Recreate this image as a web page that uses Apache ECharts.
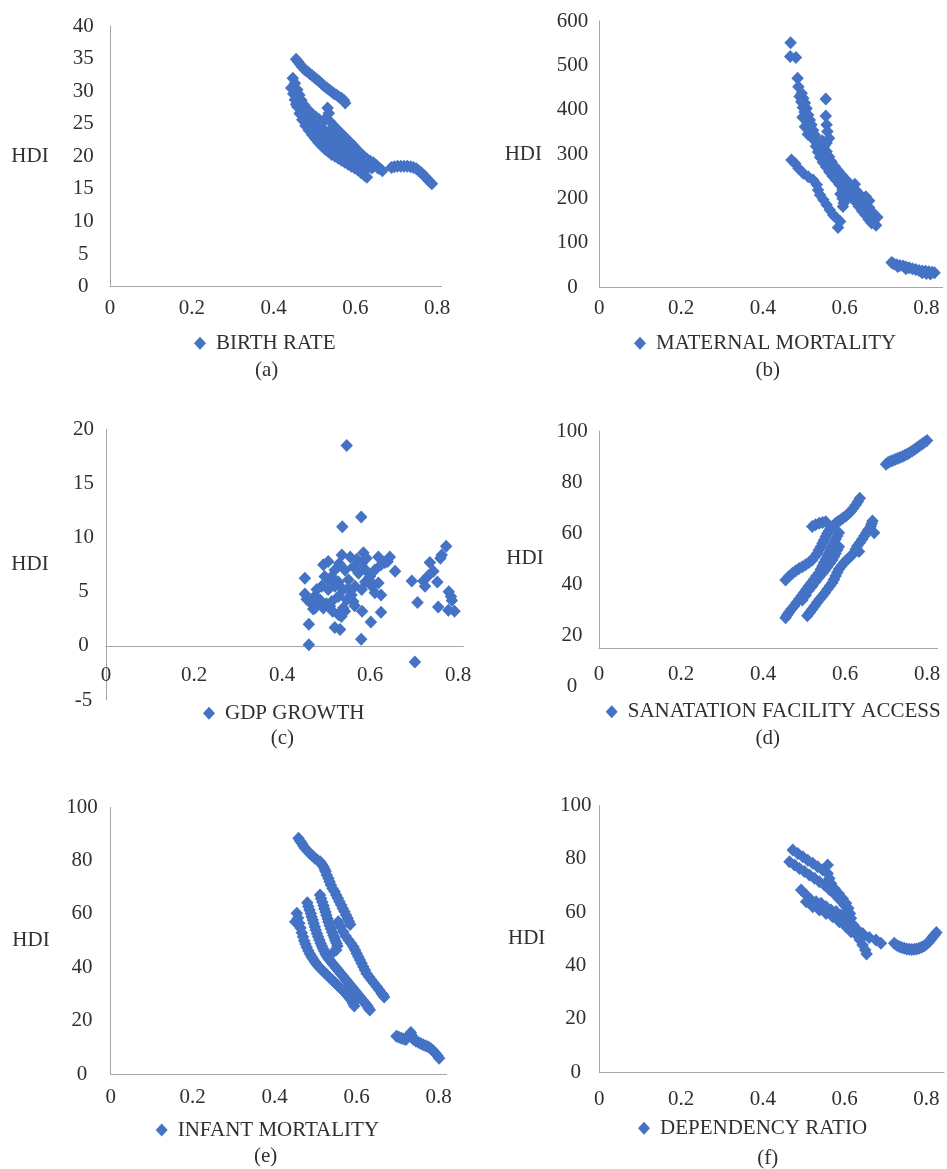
<!DOCTYPE html>
<html><head><meta charset="utf-8">
<script src="https://cdn.jsdelivr.net/npm/echarts@6/dist/echarts.min.js"></script>
<style>html,body{margin:0;padding:0;background:#fff}#c{width:947px;height:1169px}</style>
</head><body><div id="c"></div>
<script>
// ---------------- DATA ----------------
const seriesNames = ['BIRTH RATE','MATERNAL MORTALITY','GDP GROWTH','SANATATION FACILITY ACCESS','INFANT MORTALITY','DEPENDENCY RATIO'];
const captions = ['(a)','(b)','(c)','(d)','(e)','(f)'];
const yAxisTitle = 'HDI';
const xTickLabels = ['0','0.2','0.4','0.6','0.8'];
const yTicksA = ['0','5','10','15','20','25','30','35','40'];
const yTicksB = ['0','100','200','300','400','500','600'];
const yTicksC = ['-5','0','5','10','15','20'];
const yTicksD = ['0','20','40','60','80','100'];
const yTicksE = ['0','20','40','60','80','100'];
const yTicksF = ['0','20','40','60','80','100'];

const birthRate = [
[0.455,34.9],[0.46,34.5],[0.465,34.1],[0.47,33.7],[0.476,33.3],[0.482,33.0],[0.488,32.7],[0.494,32.4],[0.50,32.1],[0.506,31.8],[0.512,31.5],[0.518,31.1],[0.524,30.8],[0.53,30.5],[0.536,30.2],[0.542,29.9],[0.548,29.6],[0.554,29.4],[0.56,29.1],[0.566,28.9],[0.572,28.6],[0.575,28.2],
[0.447,32.0],[0.452,31.2],[0.458,30.2],[0.463,29.4],[0.468,28.6],[0.474,27.9],[0.48,27.4],[0.488,26.9],[0.496,26.4],[0.504,26.0],[0.512,25.6],[0.52,25.3],[0.527,25.8],[0.532,27.4],[0.535,26.6],[0.54,25.2],[0.548,24.6],[0.556,24.1],[0.564,23.6],[0.572,23.1],[0.58,22.6],[0.588,22.1],[0.596,21.6],[0.604,21.0],[0.612,20.5],[0.62,20.0],[0.628,19.6],[0.636,19.3],[0.644,19.0],[0.652,18.6],[0.66,18.1],[0.666,17.8],
[0.455,29.8],[0.465,28.4],[0.475,27.1],[0.485,26.2],[0.495,25.5],[0.505,25.0],[0.515,24.5],[0.525,24.0],[0.535,23.6],[0.545,23.2],[0.555,22.8],[0.565,22.3],[0.575,21.8],[0.585,21.3],[0.595,20.8],[0.605,20.3],[0.615,19.8],[0.625,19.3],[0.635,18.9],[0.645,18.5],[0.655,18.2],
[0.46,28.5],[0.47,27.2],[0.48,26.0],[0.49,25.3],[0.50,24.6],[0.51,24.0],[0.52,23.5],[0.53,23.0],[0.54,22.5],[0.55,22.0],[0.56,21.6],[0.57,21.1],[0.58,20.7],[0.59,20.2],[0.60,19.8],[0.61,19.3],[0.62,18.9],[0.63,18.5],[0.64,18.2],
[0.455,28.0],[0.465,26.5],[0.475,25.5],[0.485,24.7],[0.495,24.0],[0.505,23.4],[0.515,22.8],[0.525,22.3],[0.535,21.8],[0.545,21.3],[0.555,20.9],[0.565,20.5],[0.575,20.0],[0.585,19.6],[0.595,19.1],[0.605,18.7],[0.615,18.3],[0.625,17.9],
[0.443,30.5],[0.448,29.6],[0.452,28.7],[0.458,27.6],[0.464,26.6],[0.47,25.6],[0.478,24.7],[0.486,24.0],[0.494,23.3],[0.502,22.7],[0.51,22.1],[0.518,21.6],[0.526,21.1],[0.534,20.7],[0.542,20.3],[0.55,20.0],[0.558,19.7],[0.566,19.4],[0.574,19.1],[0.582,18.8],[0.59,18.5],[0.598,18.2],[0.606,17.9],[0.614,17.5],[0.622,17.1],[0.628,16.8],
[0.688,18.3],[0.695,18.4],[0.703,18.5],[0.711,18.5],[0.719,18.5],[0.727,18.5],[0.735,18.4],[0.742,18.3],[0.749,18.1],[0.755,17.8],[0.761,17.5],[0.767,17.1],[0.772,16.8],[0.777,16.4],[0.782,16.1],[0.787,15.8]
];

const maternalMortality = [
[0.468,551],[0.467,520],[0.481,518],[0.485,471],
[0.487,452],[0.495,437],[0.499,426],[0.503,415],[0.507,403],[0.511,388],[0.515,377],[0.519,366],[0.523,354],[0.527,343],[0.532,332],[0.540,321],[0.544,309],[0.548,298],[0.556,287],[0.564,276],[0.572,264],[0.580,257],[0.589,246],[0.597,238],[0.605,231],[0.613,223],[0.621,212],[0.629,201],[0.637,189],[0.646,178],[0.654,167],[0.662,159],[0.670,148],[0.677,140],
[0.49,430],[0.494,418],[0.498,405],[0.502,395],[0.508,372],[0.512,360],[0.518,345],[0.524,333],[0.53,318],[0.535,305],[0.54,293],[0.547,282],[0.555,271],[0.563,260],[0.571,250],[0.579,242],[0.587,233],[0.595,226],[0.603,218],[0.611,210],[0.619,201],[0.627,192],[0.635,182],[0.643,172],[0.651,163],[0.659,153],[0.666,145],
[0.497,383],[0.503,362],[0.51,345],
[0.545,330],[0.55,318],[0.556,306],[0.562,294],[0.568,283],[0.576,272],[0.585,262],[0.594,252],[0.603,243],[0.612,234],[0.620,226],[0.628,218],[0.636,210],[0.644,200],[0.652,190],[0.66,180],[0.667,170],[0.674,160],[0.68,158],
[0.59,230],[0.595,220],[0.59,210],[0.595,200],[0.598,190],[0.596,182],[0.605,200],[0.612,215],[0.625,232],[0.625,210],[0.635,205],[0.64,195],[0.652,204],[0.66,195],
[0.554,424],[0.554,386],[0.556,366],[0.558,351],[0.562,336],[0.556,325],
[0.470,287],[0.479,279],[0.487,268],[0.499,257],[0.511,249],[0.523,242],[0.532,231],[0.535,219],[0.540,208],[0.548,197],[0.556,186],[0.564,174],[0.572,163],[0.580,156],[0.589,148],[0.584,135],
[0.715,56],[0.72,53],[0.727,51],[0.735,49],[0.743,48],[0.75,46],[0.758,44],[0.766,42],[0.774,40],[0.782,38],[0.79,37],[0.798,36],[0.806,35],[0.814,34],[0.82,33],[0.81,30],[0.8,31],[0.79,33],[0.75,42],[0.73,47]
];

const gdpGrowth = [
[0.547,18.5],[0.58,11.9],[0.537,11.0],[0.773,9.2],[0.763,8.4],[0.76,8.1],[0.736,7.7],[0.744,6.9],[0.733,6.5],[0.721,6.0],[0.725,5.5],[0.695,6.0],[0.753,5.9],[0.708,4.0],[0.779,5.0],[0.784,4.55],[0.786,4.2],[0.755,3.6],[0.778,3.3],[0.792,3.2],[0.702,-1.5],[0.461,0.1],[0.58,0.6],[0.461,2.0],[0.52,1.7],[0.532,1.5],[0.602,2.2],[0.625,3.1],[0.582,3.2],[0.535,2.7],[0.528,2.9],[0.539,3.5],[0.625,4.7],[0.452,6.25],[0.452,4.8],[0.456,4.3],[0.467,3.9],[0.471,3.4],
[0.494,7.5],[0.505,7.8],[0.536,8.4],[0.555,8.2],[0.585,8.6],[0.619,8.2],[0.645,8.2],[0.657,6.9],[0.634,7.7],[0.611,7.0],[0.6,6.4],[0.589,5.9],[0.574,6.7],[0.562,7.3],[0.543,7.0],[0.52,7.0],[0.513,6.4],[0.528,5.9],[0.551,6.1],[0.566,5.5],[0.581,5.2],[0.604,5.5],[0.619,5.8],[0.611,4.9],[0.558,4.7],[0.539,5.2],[0.52,5.5],[0.505,5.2],[0.49,5.5],[0.479,5.2],[0.475,4.6],[0.486,4.25],[0.501,3.9],[0.513,4.1],[0.528,4.55],[0.547,4.25],[0.562,4.1],[0.475,3.5],[0.494,3.5],[0.509,3.65],[0.543,3.2],[0.497,6.4],[0.509,5.9],[0.581,7.6],[0.592,8.1],
[0.53,7.6],[0.57,8.0],[0.59,7.0],[0.55,5.3],[0.6,6.0],[0.625,7.5],[0.64,7.8],[0.515,3.2],[0.48,4.0],[0.565,3.7]
];

const sanitationAccess = [
[0.70,87.0],[0.705,87.6],[0.71,88.0],[0.716,88.4],[0.722,88.8],[0.728,89.2],[0.734,89.6],[0.74,90.0],[0.746,90.5],[0.752,91.0],[0.758,91.6],[0.764,92.2],[0.77,92.8],[0.776,93.5],[0.782,94.2],[0.788,94.9],[0.794,95.6],[0.80,96.3],
[0.455,41.6],[0.463,42.9],[0.472,44.2],[0.480,45.2],[0.488,46.1],[0.496,46.8],[0.504,47.5],[0.512,48.4],[0.520,49.4],[0.526,50.7],[0.532,52.0],[0.536,53.3],[0.541,54.6],[0.545,56.0],[0.549,57.3],[0.553,58.6],[0.557,59.9],[0.561,60.9],[0.565,61.8],[0.571,62.8],[0.577,63.8],[0.583,64.5],[0.589,65.1],[0.595,65.9],[0.602,66.7],[0.608,67.5],[0.614,68.4],[0.620,69.7],[0.626,71.0],[0.631,72.3],[0.636,73.6],
[0.520,62.5],[0.528,63.2],[0.537,63.8],[0.545,64.1],[0.553,64.4],
[0.455,26.8],[0.459,27.8],[0.463,28.8],[0.469,30.1],[0.476,31.4],[0.482,32.7],[0.488,34.0],[0.494,35.3],[0.5,36.6],[0.506,37.9],[0.512,39.2],[0.518,40.5],[0.524,41.8],[0.530,43.1],[0.537,44.4],[0.541,45.8],[0.545,47.1],[0.549,48.4],[0.553,49.7],[0.557,51.0],[0.561,52.3],[0.565,53.6],[0.569,54.9],[0.573,56.2],[0.577,57.5],[0.581,58.8],[0.585,60.1],
[0.508,27.5],[0.514,28.8],[0.520,30.1],[0.526,31.4],[0.532,32.7],[0.538,34.0],[0.545,35.3],[0.551,36.6],[0.557,37.9],[0.563,39.2],[0.569,40.5],[0.573,41.8],[0.577,43.1],[0.581,44.5],[0.585,45.8],[0.591,47.1],[0.598,48.4],[0.604,49.4],[0.610,50.3],[0.616,51.3],[0.622,52.3],[0.626,53.6],[0.630,54.9],[0.636,56.2],[0.642,57.5],[0.647,58.8],[0.652,60.1],[0.657,61.4],[0.663,62.7],[0.665,63.7],[0.667,64.7],
[0.671,60.1],[0.634,52.7],
[0.496,33.7],[0.504,35.6],[0.512,37.6],[0.520,39.2],[0.528,40.9],[0.536,42.5],[0.545,44.2],[0.551,45.5],[0.557,46.8],[0.563,48.1],[0.569,49.4],[0.573,50.7],[0.577,52.0],[0.581,53.3],[0.585,54.6]
];

const infantMortality = [
[0.458,88.4],[0.462,87.4],[0.466,86.5],[0.470,85.5],[0.474,84.6],[0.480,83.6],[0.486,82.7],[0.492,81.8],[0.498,80.9],[0.504,80.2],[0.511,79.6],[0.515,78.6],[0.519,77.7],[0.522,76.8],[0.524,75.9],[0.527,74.6],[0.531,73.4],[0.534,72.1],[0.537,70.9],[0.541,69.6],[0.546,68.4],[0.550,67.1],[0.554,65.9],[0.558,64.6],[0.562,63.4],[0.566,62.1],[0.570,60.9],[0.574,59.6],[0.578,58.4],[0.581,57.2],[0.584,56.1],
[0.555,57.1],[0.561,55.2],[0.567,53.3],[0.573,51.7],[0.580,50.2],[0.586,49.0],[0.592,47.7],[0.596,46.5],[0.600,45.2],[0.604,44.0],[0.608,42.7],[0.612,41.5],[0.616,40.2],[0.620,39.0],[0.624,37.7],[0.630,36.5],[0.636,35.2],[0.642,34.0],[0.649,32.7],[0.655,31.5],[0.661,30.2],[0.664,29.6],[0.667,28.9],
[0.454,60.3],[0.45,57.1],[0.457,58.5],[0.46,56.5],[0.463,54.7],[0.466,53],[0.469,51.5],[0.472,50],[0.475,48.7],[0.478,47.5],[0.482,46.2],[0.486,45],[0.49,44],[0.494,43],[0.498,42.1],[0.502,41.2],[0.507,40.3],[0.512,39.5],[0.517,38.7],[0.522,38],[0.527,37.2],[0.532,36.5],[0.537,35.7],[0.542,35],[0.547,34.2],[0.552,33.5],[0.557,32.7],[0.562,32],[0.567,31.2],[0.572,30.5],[0.576,29.7],[0.58,29],[0.584,28.2],[0.588,27.5],[0.591,26.5],[0.594,25.5],
[0.4795,64.2],[0.482,62.8],[0.485,61.5],[0.488,60.2],[0.49,59],[0.493,57.7],[0.495,56.5],[0.498,55.2],[0.5,54],[0.503,52.7],[0.506,51.5],[0.509,50.2],[0.512,49],[0.515,48],[0.518,47],[0.521,46],[0.524,45],[0.527,44.2],[0.53,43.5],[0.534,42.7],[0.538,42],[0.542,41.2],[0.546,40.5],[0.55,39.7],[0.554,39],[0.558,38.2],[0.562,37.5],[0.566,36.7],[0.57,36],[0.574,35.2],[0.578,34.5],[0.582,33.7],[0.586,33],[0.59,32.2],[0.594,31.5],[0.598,30.7],[0.602,30],[0.606,29.2],[0.61,28.5],[0.614,27.7],[0.618,27],[0.622,26.2],[0.626,25.5],[0.629,24.7],[0.632,24],
[0.5105,67.1],[0.513,65.8],[0.516,64.5],[0.519,63.2],[0.521,62],[0.524,60.7],[0.526,59.5],[0.529,58.2],[0.531,57],[0.534,55.7],[0.537,54.5],[0.54,53.2],[0.543,52],[0.546,51],[0.548,50],[0.551,49],[0.553,48],[0.55,46.5],[0.545,46],
[0.697,14.2],[0.703,13.8],[0.709,13.4],[0.715,13.1],[0.72,12.9],[0.726,14.2],[0.732,15.6],[0.734,14.5],[0.738,13.0],[0.744,12.4],[0.75,11.9],[0.756,11.4],[0.762,11.0],[0.768,10.6],[0.774,10.2],[0.78,9.6],[0.786,8.8],[0.792,7.8],[0.797,6.8],[0.801,5.9]
];

const dependencyRatio = [
[0.4732,83.3],[0.4854,82.0],[0.4976,80.8],[0.5098,79.5],[0.522,78.3],[0.5341,77.0],[0.5463,75.8],[0.5585,74.5],[0.5585,77.7],[0.5626,72.6],[0.5667,70.7],[0.5748,68.9],[0.5854,67.0],[0.5951,65.1],[0.6033,63.3],[0.609,61.4],[0.6131,59.5],
[0.4651,78.9],[0.4773,77.7],[0.4895,76.4],[0.5017,75.2],[0.5139,73.9],[0.5261,72.7],[0.5383,71.4],[0.5505,70.2],[0.5626,68.5],[0.5748,66.8],[0.587,64.8],[0.5992,62.7],[0.6073,60.2],[0.6155,57.7],[0.6211,55.2],
[0.4937,68.3],[0.5059,66.4],[0.5181,64.5],[0.5302,63.9],[0.5424,63.3],[0.5546,62.0],[0.5668,60.8],[0.579,60.2],[0.5912,58.9],[0.6033,57.0],[0.6131,55.2],[0.6211,53.3],[0.6293,51.4],[0.6374,49.5],[0.6439,47.7],[0.6504,45.8],[0.6537,44.3],
[0.5059,63.9],[0.522,62.0],[0.5383,60.8],[0.5546,59.5],[0.5708,58.3],[0.587,56.4],[0.6033,54.5],[0.6155,52.6],
[0.6277,53.9],[0.6439,52.0],[0.6602,50.5],[0.6765,49.5],[0.6887,48.3],
[0.7212,48.3],[0.7273,47.6],[0.7334,47.1],[0.7395,46.7],[0.7456,46.4],[0.7517,46.2],[0.7578,46.1],[0.7639,46.0],[0.77,46.1],[0.7761,46.2],[0.7822,46.4],[0.7883,46.8],[0.7944,47.3],[0.8005,48.0],[0.8066,48.9],[0.8115,49.8],[0.8163,50.8],[0.8204,51.5],[0.8244,52.3]
];

// ---------------- LAYOUT / STYLE ----------------
const FONT = 'Liberation Serif';
const FS = 21;
const TEXT = '#303030';
const AXIS = '#a6a6a6';
const BLUE = '#4472C4';
const MARK = [12.5, 13];

const panels = [
 {data:birthRate, yTicks:yTicksA, grid:{left:110,top:26,width:331.7,height:260.7}, xMax:0.811, yMin:0, yMax:40, yInt:5, yGap:26.7, yShift:0, xMargin:11, nameGap:80, nameShift:-6.3, legend:[194,343.3], caption:[266.7,370]},
 {data:maternalMortality, yTicks:yTicksB, grid:{left:599.3,top:21,width:343.4,height:266.3}, xMax:0.84, yMin:0, yMax:600, yInt:100, yGap:26.8, yShift:0, xMargin:11, nameGap:76, nameShift:-2.5, legend:[634,343.3], caption:[767.7,370]},
 {data:gdpGrowth, yTicks:yTicksC, grid:{left:106,top:429.3,width:357.3,height:270.7}, xMax:0.812, yMin:-5, yMax:20, yInt:5, yGap:22.5, yShift:0, xMargin:19, xOnZero:true, nameGap:76, nameShift:2, legend:[203,713.3], caption:[282.3,738.3]},
 {data:sanitationAccess, yTicks:yTicksD, grid:{left:599,top:431,width:338.7,height:217}, labelGridHeight:255, xMax:0.826, yMin:14.9, yMax:100, yInt:20, yGap:27, yShift:0, xMargin:16, nameGap:74, nameShift:0.8, legend:[605.7,711.7], caption:[767.7,738.3]},
 {data:infantMortality, yTicks:yTicksE, grid:{left:110.7,top:807.3,width:336,height:266.7}, xMax:0.8195, yMin:0, yMax:100, yInt:20, yGap:28.7, yShift:-4.5, xMargin:13, nameGap:79.7, nameShift:-8, legend:[155.7,1130], caption:[265.7,1156.7]},
 {data:dependencyRatio, yTicks:yTicksF, grid:{left:599.3,top:805.5,width:345.7,height:266.5}, xMax:0.843, yMin:0, yMax:100, yInt:20, yGap:23.6, yShift:-4.5, xMargin:17, nameGap:72.6, nameShift:-3.75, legend:[638,1128.3], caption:[767.7,1158.3]}
];

function shiftPad(s){ return s < 0 ? [0,0,-2*s,0] : [2*s,0,0,0]; }
function tickFormatter(labels){
  return function(v){ const t = labels.find(s => Math.abs(Number(s) - v) < 1e-6); return t === undefined ? '' : t; };
}
const textBase = {fontFamily:FONT, fontSize:FS, color:TEXT};
const lineStyle = {color:AXIS, width:1};

const option = {animation:false, backgroundColor:'#fff', grid:[], xAxis:[], yAxis:[], series:[], legend:[], title:[]};

panels.forEach((p, i) => {
  const special = (p.labelGridHeight !== undefined);
  option.grid.push(Object.assign({containLabel:false}, p.grid));
  const x = {type:'value', gridIndex:i, min:0, max:p.xMax, interval:0.2,
    axisLine:{show:true, onZero:false, lineStyle}, axisTick:{show:false}, splitLine:{show:false},
    axisLabel:Object.assign({margin:p.xMargin, formatter:tickFormatter(xTickLabels)}, textBase)};
  if (p.xOnZero) {
    // x axis (line and labels) crosses the y axis at value 0
    x.offset = -p.grid.height * (0 - p.yMin) / (p.yMax - p.yMin);
  }
  option.xAxis.push(x);
  const y = {type:'value', gridIndex:i, min:p.yMin, max:p.yMax,
    axisLine:{show:true, onZero:true, lineStyle}, axisTick:{show:false}, splitLine:{show:false}};
  if (special) {
    y.axisLabel = {show:false};
  } else {
    y.interval = p.yInt;
    y.axisLabel = Object.assign({margin:p.yGap, align:'center', verticalAlign:'middle', padding:shiftPad(p.yShift), formatter:tickFormatter(p.yTicks)}, textBase);
    y.name = yAxisTitle; y.nameLocation = 'middle'; y.nameRotate = 0; y.nameGap = p.nameGap;
    y.nameTextStyle = Object.assign({align:'center', verticalAlign:'middle', padding:shiftPad(p.nameShift)}, textBase);
  }
  option.yAxis.push(y);
  option.series.push({type:'scatter', name:seriesNames[i], xAxisIndex:i, yAxisIndex:i, data:p.data,
    symbol:'diamond', symbolSize:MARK, itemStyle:{color:BLUE, opacity:1}, silent:true});
  option.legend.push({data:[seriesNames[i]], left:p.legend[0], top:p.legend[1]-11, padding:0, orient:'horizontal',
    icon:'diamond', itemWidth:12, itemHeight:13, selectedMode:false,
    textStyle:Object.assign({lineHeight:22, padding:[0,0,0,5]}, textBase)});
  option.title.push({text:captions[i], left:p.caption[0], top:p.caption[1], textAlign:'center', textVerticalAlign:'middle', padding:0,
    textStyle:Object.assign({fontWeight:'normal'}, textBase)});
});

// panel (d): separate label axis spanning 0..100 (its "0" label sits below the x axis line)
(function(){
  const p = panels[3];
  const gi = option.grid.length;
  option.grid.push({left:p.grid.left, top:p.grid.top, width:p.grid.width, height:p.labelGridHeight, containLabel:false});
  option.xAxis.push({type:'value', gridIndex:gi, min:0, max:p.xMax, show:false});
  option.yAxis.push(Object.assign({type:'value', gridIndex:gi, min:0, max:100, interval:p.yInt,
    axisLine:{show:false}, axisTick:{show:false}, splitLine:{show:false},
    axisLabel:Object.assign({margin:p.yGap, align:'center', verticalAlign:'middle', padding:shiftPad(p.yShift), formatter:tickFormatter(p.yTicks)}, textBase),
    name:yAxisTitle, nameLocation:'middle', nameRotate:0, nameGap:p.nameGap,
    nameTextStyle:Object.assign({align:'center', verticalAlign:'middle', padding:shiftPad(p.nameShift)}, textBase)}));
})();

const chart = echarts.init(document.getElementById('c'), null, {renderer:'canvas'});
chart.setOption(option);
</script>
</body></html>
